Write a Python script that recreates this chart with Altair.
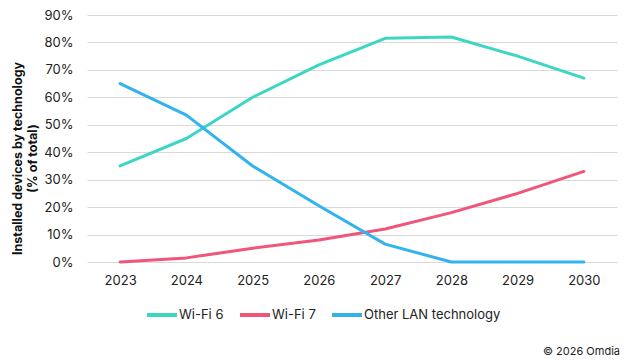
import altair as alt
import pandas as pd

years = ["2023", "2024", "2025", "2026", "2027", "2028", "2029", "2030"]
series_names = ["Wi-Fi 6", "Wi-Fi 7", "Other LAN technology"]
wifi6 = [0.35, 0.45, 0.60, 0.718, 0.815, 0.82, 0.75, 0.67]
wifi7 = [0.0, 0.015, 0.05, 0.08, 0.12, 0.18, 0.25, 0.33]
other = [0.65, 0.535, 0.35, 0.205, 0.065, 0.0, 0.0, 0.0]
colors = ["#3DD6C5", "#F0567A", "#32B3EE"]
y_ticks = [0, 0.1, 0.2, 0.3, 0.4, 0.5, 0.6, 0.7, 0.8, 0.9]
footer = ["© 2026 Omdia"]

rows = []
for name, vals in zip(series_names, [wifi6, wifi7, other]):
    for yr, v in zip(years, vals):
        rows.append({"Year": yr, "Series": name, "Value": v})
df = pd.DataFrame(rows)

FONT = "Inter"

lines = alt.Chart(df).mark_line(strokeWidth=3, strokeCap="round", strokeJoin="round").encode(
    x=alt.X("Year:O", sort=years,
            scale=alt.Scale(type="point", padding=0.5),
            axis=alt.Axis(title=None, labelAngle=0, ticks=False, domain=False, grid=False,
                          labelPadding=12, labelFontSize=13, labelColor="#222222", labelFont=FONT)),
    y=alt.Y("Value:Q", scale=alt.Scale(domain=[0, 0.9], nice=False),
            axis=alt.Axis(values=y_ticks, format=".0%", ticks=False, domain=False,
                          gridColor="#d9d9d9", gridWidth=1,
                          labelPadding=14, labelFontSize=13, labelColor="#222222", labelFont=FONT,
                          title=["Installed devices by technology", "(% of total)"],
                          titleFont=FONT, titleFontSize=12.5, titleFontWeight="bold",
                          titleColor="#111111", titleAngle=-90, titleAlign="center",
                          titleBaseline="middle", titleX=-70, titleY=143, titleLineHeight=15)),
    color=alt.Color("Series:N", sort=series_names,
                    scale=alt.Scale(domain=series_names, range=colors),
                    legend=alt.Legend(title=None, orient="none", direction="horizontal",
                                      legendX=58, legendY=283,
                                      symbolType="stroke", symbolSize=900, symbolStrokeWidth=4,
                                      labelFont=FONT, labelFontSize=13, labelColor="#222222",
                                      labelOffset=0, columnPadding=8)),
)

foot = alt.Chart(pd.DataFrame({"t": footer})).mark_text(
    align="right", baseline="middle", font=FONT, fontSize=11, color="#222222"
).encode(text="t:N", x=alt.value(533), y=alt.value(337))

chart = alt.layer(lines, foot).properties(
    width=530, height=247,
    autosize=alt.AutoSizeParams(type="none"),
    padding={"left": 79, "top": 7, "right": 15, "bottom": 96},
).configure_view(stroke=None)

chart.save("out.html", embed_options={"renderer": "svg", "actions": False})
